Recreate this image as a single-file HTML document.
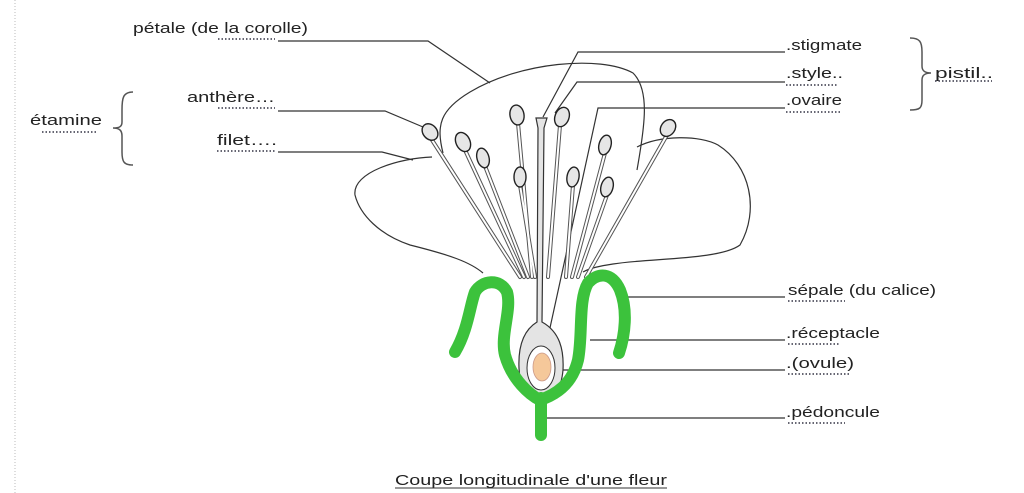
<!DOCTYPE html>
<html><head><meta charset="utf-8"><style>
html,body{margin:0;padding:0;background:#fff;width:1024px;height:493px;overflow:hidden}
svg{display:block}
text{font-family:"Liberation Sans",sans-serif;font-size:15px;fill:#222}
</style></head><body>
<svg width="1024" height="493" viewBox="0 0 1024 493">
<line x1="15" y1="0" x2="15" y2="493" stroke="#bbb" stroke-dasharray="1,2"/>
<g fill="none" stroke="#333" stroke-width="1.2">
<!-- back petal -->
<path d="M443,153 C436,125 440,110 470,92 C520,62 600,55 633,73 C650,90 645,125 637,170"/>
<!-- left petal -->
<path d="M432,157 C400,158 352,172 355,195 C360,215 380,235 410,245 C450,255 470,262 483,273"/>
<!-- right petal -->
<path d="M637,147 C660,135 700,135 718,145 C750,165 760,210 740,245 C720,260 650,258 613,264 C600,266 590,268 583,272"/>
<!-- leader lines -->
<polyline points="278,41 428,41 490,83"/>
<polyline points="278,111 385,111 423,127"/>
<polyline points="278,152 382,152 413,160"/>
<polyline points="785,52 578,52 543,117"/>
<polyline points="785,82 577,82 555,113"/>
<polyline points="785,108 598,108 548,337"/>
<polyline points="785,297 622,297"/>
<polyline points="785,340 590,340"/>
<polyline points="785,370 550,370"/>
<polyline points="785,418 547,418"/>
</g>
<!-- filaments -->
<g stroke-linecap="round" fill="none">
<g stroke="#555" stroke-width="4">
<path d="M432,140 L520,277"/><path d="M465,150 L524,277"/><path d="M485,166 L528,277"/><path d="M518,123 L532,277"/><path d="M520,185 L535,277"/>
<path d="M560,125 L548,277"/><path d="M573,185 L566,277"/><path d="M605,153 L572,277"/><path d="M607,195 L578,277"/><path d="M667,135 L586,277"/>
</g>
<g stroke="#fff" stroke-width="2">
<path d="M432,140 L520,277"/><path d="M465,150 L524,277"/><path d="M485,166 L528,277"/><path d="M518,123 L532,277"/><path d="M520,185 L535,277"/>
<path d="M560,125 L548,277"/><path d="M573,185 L566,277"/><path d="M605,153 L572,277"/><path d="M607,195 L578,277"/><path d="M667,135 L586,277"/>
</g>
</g>
<!-- anthers -->
<g fill="#e6e6e6" stroke="#222" stroke-width="1.4">
<ellipse cx="430" cy="132" rx="7" ry="9" transform="rotate(-40 430 132)"/>
<ellipse cx="463" cy="142" rx="7" ry="10" transform="rotate(-25 463 142)"/>
<ellipse cx="483" cy="158" rx="6" ry="10" transform="rotate(-15 483 158)"/>
<ellipse cx="517" cy="115" rx="7" ry="10" transform="rotate(-10 517 115)"/>
<ellipse cx="520" cy="177" rx="6" ry="10"/>
<ellipse cx="562" cy="117" rx="7" ry="10" transform="rotate(20 562 117)"/>
<ellipse cx="573" cy="177" rx="6" ry="10" transform="rotate(10 573 177)"/>
<ellipse cx="605" cy="145" rx="6" ry="10" transform="rotate(15 605 145)"/>
<ellipse cx="607" cy="187" rx="6" ry="10" transform="rotate(15 607 187)"/>
<ellipse cx="668" cy="128" rx="7" ry="9" transform="rotate(35 668 128)"/>
</g>
<!-- pistil -->
<path d="M536,118 L547,118 L544,128 L542,322 C560,332 564,350 563,370 C561,392 552,399 541,399 C529,399 520,391 519,368 C518,345 524,330 537,322 L538,128 Z" fill="#e4e4e4" stroke="#333" stroke-width="1.2"/>
<ellipse cx="541" cy="368" rx="14" ry="22" fill="#fff" stroke="#333" stroke-width="1"/>
<ellipse cx="542" cy="367" rx="9" ry="14" fill="#f5c89a" stroke="#c98" stroke-width="0.8"/>
<!-- green sepals/receptacle -->
<g fill="none" stroke="#3cc23c" stroke-width="12" stroke-linecap="round" stroke-linejoin="round">
<path d="M455,352 C468,330 470,305 475,292 C482,280 500,278 507,292 C512,310 500,335 505,355 C512,380 530,395 540,400 C555,395 572,385 578,360 C583,335 578,300 588,283 C598,272 612,272 620,290 C628,310 625,335 619,353"/>
<path d="M541,398 L541,435"/>
</g>
<!-- braces -->
<path d="M133,92 C123,92 122,98 122,110 L122,122 C122,127 119,128 113,128 C119,128 122,130 122,136 L122,152 C122,162 124,165 133,165" fill="none" stroke="#555" stroke-width="1.5"/>
<path d="M910,38 C920,38 922,42 922,52 L922,66 C922,71 925,73 931,73 C925,73 922,75 922,80 L922,100 C922,108 920,110 910,110" fill="none" stroke="#555" stroke-width="1.5"/>
<!-- labels -->
<text x="133" y="33" textLength="175" lengthAdjust="spacingAndGlyphs">pétale (de la corolle)</text>
<text x="187" y="102" textLength="88" lengthAdjust="spacingAndGlyphs">anthère…</text>
<text x="217" y="145" textLength="60" lengthAdjust="spacingAndGlyphs">filet….</text>
<text x="30" y="125" textLength="72" lengthAdjust="spacingAndGlyphs">étamine</text>
<text x="786" y="50" textLength="76" lengthAdjust="spacingAndGlyphs">.stigmate</text>
<text x="786" y="78" textLength="57" lengthAdjust="spacingAndGlyphs">.style..</text>
<text x="786" y="105" textLength="56" lengthAdjust="spacingAndGlyphs">.ovaire</text>
<text x="935" y="78" textLength="58" lengthAdjust="spacingAndGlyphs">pistil..</text>
<text x="788" y="295" textLength="148" lengthAdjust="spacingAndGlyphs">sépale (du calice)</text>
<text x="786" y="338" textLength="94" lengthAdjust="spacingAndGlyphs">.réceptacle</text>
<text x="786" y="368" textLength="68" lengthAdjust="spacingAndGlyphs">.(ovule)</text>
<text x="786" y="417" textLength="94" lengthAdjust="spacingAndGlyphs">.pédoncule</text>
<text x="395" y="485" textLength="272" lengthAdjust="spacingAndGlyphs">Coupe longitudinale d'une fleur</text>
<line x1="395" y1="488" x2="667" y2="488" stroke="#333" stroke-width="1"/>
<!-- dotted spelling underlines -->
<g stroke="#334" stroke-width="1.5" stroke-dasharray="1.5,2">
<line x1="218" y1="39" x2="275" y2="39"/>
<line x1="218" y1="108" x2="275" y2="108"/>
<line x1="217" y1="151" x2="275" y2="151"/>
<line x1="42" y1="132" x2="98" y2="132"/>
<line x1="786" y1="85" x2="838" y2="85"/>
<line x1="786" y1="112" x2="840" y2="112"/>
<line x1="935" y1="81" x2="992" y2="81"/>
<line x1="788" y1="301" x2="845" y2="301"/>
<line x1="788" y1="344" x2="840" y2="344"/>
<line x1="788" y1="374" x2="850" y2="374"/>
<line x1="788" y1="423" x2="845" y2="423"/>
</g>
</svg>
</body></html>
